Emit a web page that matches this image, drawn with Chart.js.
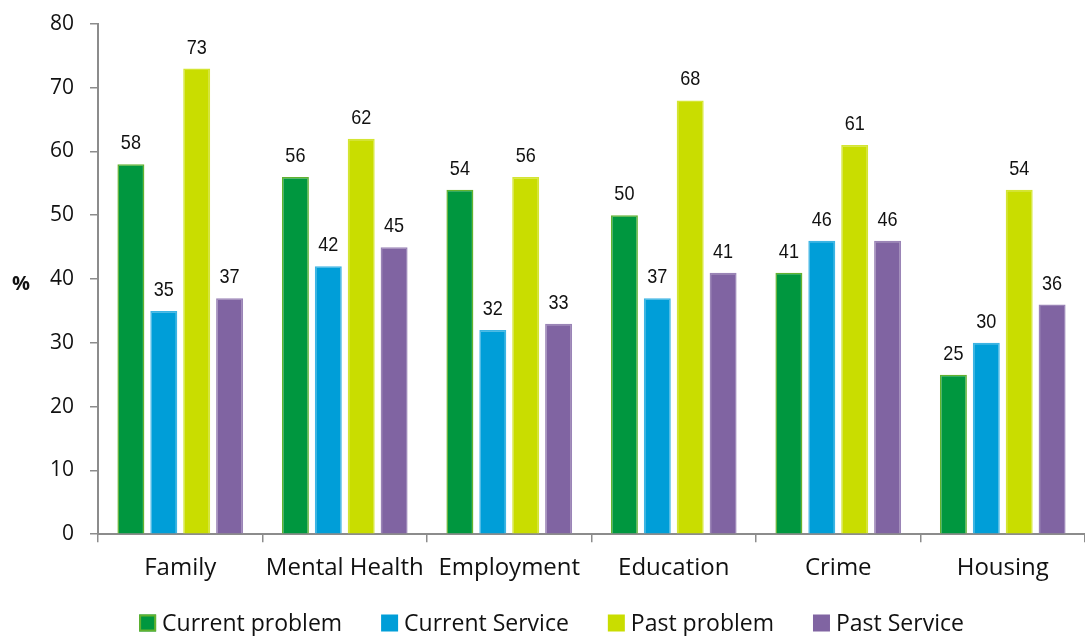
<!DOCTYPE html>
<html>
<head>
<meta charset="utf-8">
<script src="https://cdn.jsdelivr.net/npm/chart.js@4"></script>
<style>
  html, body { margin: 0; padding: 0; background: #fff; }
  #wrap { width: 1085px; height: 636px; }
</style>
</head>
<body>
<div id="wrap"><canvas id="chart"></canvas></div>
<script>
const categories = ['Family', 'Mental Health', 'Employment', 'Education', 'Crime', 'Housing'];
const currentProblem = [58, 56, 54, 50, 41, 25];
const currentService = [35, 42, 32, 37, 46, 30];
const pastProblem = [73, 62, 56, 68, 61, 54];
const pastService = [37, 45, 33, 41, 46, 36];
const yTicks = [0, 10, 20, 30, 40, 50, 60, 70, 80];

const axisGrey = '#8c8c8c';
const textColor = '#111';

// value above each bar, slightly condensed
const barValues = {
  id: 'barValues',
  afterDatasetsDraw(chart) {
    const ctx = chart.ctx;
    ctx.save();
    ctx.font = '21px "Liberation Sans"';
    ctx.fillStyle = textColor;
    ctx.textAlign = 'center';
    ctx.textBaseline = 'alphabetic';
    chart.data.datasets.forEach((ds, i) => {
      chart.getDatasetMeta(i).data.forEach((bar, j) => {
        ctx.save();
        ctx.translate(bar.x, bar.y - 15);
        ctx.scale(0.86, 1);
        ctx.fillText(ds.data[j], 0, 0);
        ctx.restore();
      });
    });
    ctx.restore();
  }
};

// horizontal "%" beside the y axis
const percentLabel = {
  id: 'percentLabel',
  afterDraw(chart) {
    const ctx = chart.ctx;
    const y = chart.scales.y.getPixelForValue(40);
    ctx.save();
    ctx.font = 'bold 20px "Open Sans"';
    ctx.fillStyle = textColor;
    ctx.textAlign = 'center';
    ctx.textBaseline = 'middle';
    ctx.fillText('%', 21, y + 5);
    ctx.restore();
  }
};

// legend row along the bottom edge
const bottomLegend = {
  id: 'bottomLegend',
  afterDraw(chart) {
    const ctx = chart.ctx;
    const box = 17, gapText = 6, gapItem = 39, y = 623;
    ctx.save();
    ctx.font = '23px "Open Sans"';
    const items = chart.data.datasets.map(ds => ({ ds, w: box + gapText + ctx.measureText(ds.label).width }));
    const total = items.reduce((s, it) => s + it.w, 0) + gapItem * (items.length - 1);
    let x = chart.width / 2 + 9 - total / 2;
    ctx.textBaseline = 'middle';
    ctx.textAlign = 'left';
    items.forEach(({ ds, w }, i) => {
      ctx.fillStyle = ds.backgroundColor;
      ctx.fillRect(x, y - box / 2, box, box);
      if (i === 0) {
        ctx.strokeStyle = ds.borderColor;
        ctx.lineWidth = 2;
        ctx.strokeRect(x + 1, y - box / 2 + 1, box - 2, box - 2);
      }
      ctx.fillStyle = textColor;
      ctx.fillText(ds.label, x + box + gapText, y + 1);
      x += w + gapItem;
    });
    ctx.restore();
  }
};

const series = [
  { label: 'Current problem', data: currentProblem, bg: '#00973f', border: '#62b22f' },
  { label: 'Current Service', data: currentService, bg: '#009ed8', border: '#3cb4e4' },
  { label: 'Past problem', data: pastProblem, bg: '#c9dd00', border: '#d4e533' },
  { label: 'Past Service', data: pastService, bg: '#8064a2', border: '#9a84b6' }
];

new Chart(document.getElementById('chart'), {
  type: 'bar',
  data: {
    labels: categories,
    datasets: series.map(s => ({
      label: s.label,
      data: s.data,
      backgroundColor: s.bg,
      borderColor: s.border,
      borderWidth: 1.5,
      categoryPercentage: 0.8,
      barPercentage: 0.82
    }))
  },
  options: {
    responsive: true,
    maintainAspectRatio: false,
    animation: false,
    layout: { padding: { top: 5, right: 0, left: 0, bottom: 41 } },
    plugins: {
      tooltip: { enabled: false },
      legend: { display: false }
    },
    scales: {
      x: {
        grid: { display: true, drawOnChartArea: false, offset: true, tickLength: 8, color: axisGrey, lineWidth: 1.5 },
        border: { color: axisGrey, width: 2 },
        ticks: { font: { family: 'Open Sans', size: 24 }, color: textColor, padding: 12 }
      },
      y: {
        min: 0,
        max: 80,
        afterFit(scale) { scale.width = 98; },
        afterBuildTicks(scale) { scale.ticks = yTicks.map(v => ({ value: v })); },
        grid: { display: true, drawOnChartArea: false, tickLength: 8, color: axisGrey, lineWidth: 1.5 },
        border: { color: axisGrey, width: 2 },
        ticks: { font: { family: 'Open Sans', size: 21, lineHeight: 0.75 }, color: textColor, padding: 16 }
      }
    }
  },
  plugins: [barValues, percentLabel, bottomLegend]
});
</script>
</body>
</html>
